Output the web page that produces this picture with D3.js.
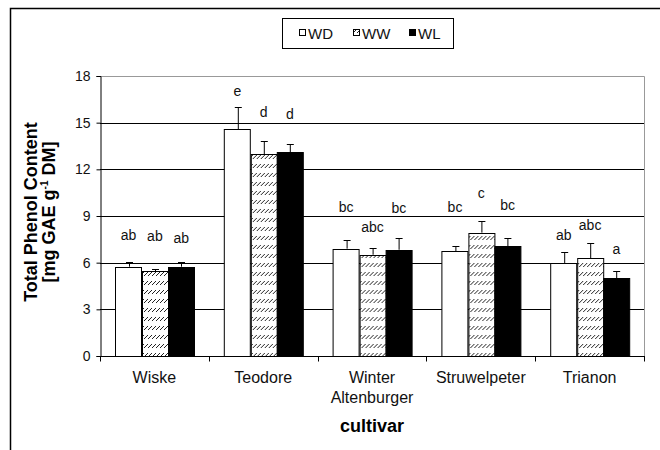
<!DOCTYPE html>
<html>
<head>
<meta charset="utf-8">
<script src="https://cdn.jsdelivr.net/npm/d3@7"></script>
<style>
  body { margin: 0; background: #fff; }
  svg { font-family: "Liberation Sans", Arial, sans-serif; }
</style>
</head>
<body>
<div id="chart"></div>
<script>
const cultivars = ["Wiske", "Teodore", "Winter Altenburger", "Struwelpeter", "Trianon"];
const treatments = ["WD", "WW", "WL"];

const meanWD = [5.74, 14.57, 6.90, 6.75, 5.98];
const meanWW = [5.44, 12.96, 6.51, 7.93, 6.28];
const meanWL = [5.74, 13.11, 6.83, 7.07, 4.99];

const errWD = [0.30, 1.41, 0.53, 0.30, 0.70];
const errWW = [0.13, 0.86, 0.45, 0.75, 0.96];
const errWL = [0.30, 0.49, 0.75, 0.51, 0.47];

const letterWD = ["ab", "e", "bc", "bc", "ab"];
const letterWW = ["ab", "d", "abc", "c", "abc"];
const letterWL = ["ab", "d", "bc", "bc", "a"];

// height (in y units) where each letter sits
const letterPosWD = [7.78, 17.03, 9.56, 9.56, 7.78];
const letterPosWW = [7.71, 15.70, 8.27, 10.46, 8.42];
const letterPosWL = [7.60, 15.57, 9.49, 9.70, 6.86];

const yTicks = [0, 3, 6, 9, 12, 15, 18];

const series = {
  WD: { mean: meanWD, err: errWD, letter: letterWD, pos: letterPosWD },
  WW: { mean: meanWW, err: errWW, letter: letterWW, pos: letterPosWW },
  WL: { mean: meanWL, err: errWL, letter: letterWL, pos: letterPosWL }
};

const data = [];
cultivars.forEach((c, i) => {
  treatments.forEach(t => {
    const s = series[t];
    data.push({ cultivar: c, treatment: t, mean: s.mean[i], err: s.err[i], letter: s.letter[i], pos: s.pos[i] });
  });
});

const W = 660, H = 450;
const plot = { left: 100, right: 644, top: 76, bottom: 356 };

const svg = d3.select("#chart").append("svg")
  .attr("width", W)
  .attr("height", H);

// hatch pattern for WW
const defs = svg.append("defs");
const pat = defs.append("pattern")
  .attr("id", "hatch")
  .attr("patternUnits", "userSpaceOnUse")
  .attr("width", 4)
  .attr("height", 9);
pat.append("rect").attr("width", 4).attr("height", 9).attr("fill", "#fff");
pat.append("path").attr("d", "M0,6 L4,2").attr("stroke", "#222").attr("stroke-width", 1);

const fillOf = { WD: "#fff", WW: "url(#hatch)", WL: "#000" };

// outer frame
svg.append("rect")
  .attr("x", 10.5).attr("y", 8.5)
  .attr("width", 700).attr("height", 500)
  .attr("fill", "none")
  .attr("stroke", "#000")
  .attr("stroke-width", 1.5);

const x = d3.scaleBand()
  .domain(cultivars)
  .range([plot.left, plot.right]);

const xSub = d3.scaleBand()
  .domain(treatments)
  .range([0.5, x.bandwidth() + 0.5])
  .paddingOuter(0.57);

const y = d3.scaleLinear()
  .domain([0, 18])
  .range([plot.bottom, plot.top]);

// gridlines
svg.append("g")
  .selectAll("line")
  .data(yTicks.filter(d => d > 0 && d < 18))
  .join("line")
  .attr("x1", plot.left).attr("x2", plot.right)
  .attr("y1", d => Math.round(y(d)) + 0.5)
  .attr("y2", d => Math.round(y(d)) + 0.5)
  .attr("stroke", "#000");

// top and right border of plot area
svg.append("path")
  .attr("d", `M${plot.left},${plot.top + 0.5} H${plot.right + 0.5} V${plot.bottom}`)
  .attr("fill", "none")
  .attr("stroke", "#999")
  .attr("stroke-width", 1);

// bars
const groups = svg.append("g")
  .selectAll("g")
  .data(data)
  .join("g")
  .attr("transform", d => `translate(${x(d.cultivar)},0)`);

groups.append("rect")
  .attr("x", d => Math.round(xSub(d.treatment)) + 0.5)
  .attr("y", d => Math.round(y(d.mean)) + 0.5)
  .attr("width", Math.round(xSub.bandwidth()))
  .attr("height", d => Math.round(plot.bottom) - Math.round(y(d.mean)))
  .attr("fill", d => fillOf[d.treatment])
  .attr("stroke", "#000")
  .attr("stroke-width", 1);

// error bars (upper only)
const cx = d => Math.round(xSub(d.treatment) + xSub.bandwidth() / 2) + 0.5;
groups.append("line")
  .attr("x1", cx).attr("x2", cx)
  .attr("y1", d => y(d.mean))
  .attr("y2", d => Math.round(y(d.mean + d.err)) + 0.5)
  .attr("stroke", "#000");
groups.append("line")
  .attr("x1", d => cx(d) - 3.5).attr("x2", d => cx(d) + 3.5)
  .attr("y1", d => Math.round(y(d.mean + d.err)) + 0.5)
  .attr("y2", d => Math.round(y(d.mean + d.err)) + 0.5)
  .attr("stroke", "#000");

// significance letters
groups.append("text")
  .attr("x", d => xSub(d.treatment) + xSub.bandwidth() / 2)
  .attr("y", d => y(d.pos))
  .attr("dy", "0.36em")
  .attr("text-anchor", "middle")
  .attr("font-size", 14)
  .attr("fill", "#111")
  .text(d => d.letter);

// y axis
const yAxis = svg.append("g")
  .attr("transform", `translate(${plot.left + 0.5},0)`)
  .call(d3.axisLeft(y).tickValues(yTicks).tickSize(4).tickPadding(6));
yAxis.select(".domain").attr("stroke", "#000");
yAxis.selectAll("text").attr("font-size", 14).attr("font-family", "Liberation Sans, Arial, sans-serif").attr("fill", "#111");

// x axis
const xAxisG = svg.append("g")
  .attr("transform", `translate(0,${plot.bottom + 0.5})`);
xAxisG.append("line")
  .attr("x1", plot.left).attr("x2", plot.right + 1)
  .attr("stroke", "#000");
xAxisG.selectAll(".tk")
  .data(cultivars.concat(["end"]))
  .join("line")
  .attr("class", "tk")
  .attr("x1", (d, i) => Math.round(plot.left + i * x.step()) + 0.5)
  .attr("x2", (d, i) => Math.round(plot.left + i * x.step()) + 0.5)
  .attr("y1", 0).attr("y2", 5)
  .attr("stroke", "#000");

xAxisG.selectAll(".lbl")
  .data(cultivars)
  .join("text")
  .attr("class", "lbl")
  .attr("text-anchor", "middle")
  .attr("font-size", 16)
  .attr("fill", "#111")
  .attr("transform", d => `translate(${x(d) + x.bandwidth() / 2},26.5)`)
  .each(function(d) {
    const words = d.split(" ");
    d3.select(this).selectAll("tspan")
      .data(words)
      .join("tspan")
      .attr("x", 0)
      .attr("dy", (w, i) => i === 0 ? 0 : 20)
      .text(w => w);
  });

// axis titles
svg.append("text")
  .attr("x", (plot.left + plot.right) / 2)
  .attr("y", 432)
  .attr("text-anchor", "middle")
  .attr("font-size", 18)
  .attr("font-weight", "bold")
  .text("cultivar");

const yTitle = svg.append("text")
  .attr("transform", "translate(0,212) rotate(-90)")
  .attr("text-anchor", "middle")
  .attr("font-size", 18)
  .attr("font-weight", "bold");
yTitle.append("tspan").attr("x", 0).attr("y", 37).text("Total Phenol Content");
const l2 = yTitle.append("tspan").attr("x", 0).attr("y", 55);
l2.append("tspan").text("[mg GAE g");
l2.append("tspan").attr("font-size", 10).attr("dy", -7).text("-1");
l2.append("tspan").attr("dy", 7).text(" DM]");

// legend
const legend = svg.append("g");
legend.append("rect")
  .attr("x", 282.5).attr("y", 18.5)
  .attr("width", 171).attr("height", 30)
  .attr("fill", "#fff")
  .attr("stroke", "#000");
const legX = { WD: 299, WW: 353, WL: 409 };
const li = legend.selectAll(".li")
  .data(treatments)
  .join("g")
  .attr("class", "li")
  .attr("transform", d => `translate(${legX[d]},0)`);
li.append("rect")
  .attr("x", 0.5).attr("y", 29.5)
  .attr("width", 6).attr("height", 6)
  .attr("fill", d => fillOf[d])
  .attr("stroke", "#000");
li.append("text")
  .attr("x", 9)
  .attr("y", 38.5)
  .attr("font-size", 15)
  .attr("fill", "#111")
  .text(d => d);
</script>
</body>
</html>
